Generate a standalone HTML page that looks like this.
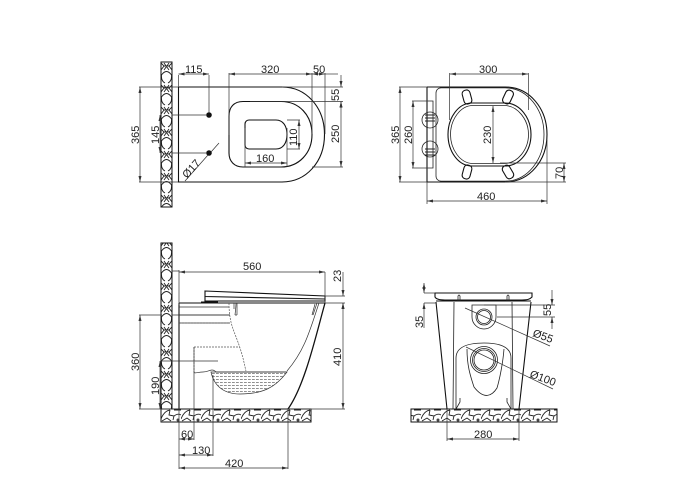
<!DOCTYPE html>
<html><head><meta charset="utf-8"><style>
html,body{margin:0;padding:0;background:#fff}
svg{display:block}
text{font-family:"Liberation Sans",sans-serif;font-size:11px;fill:#222}
.d{stroke:#333;stroke-width:.7;fill:none}
.h{stroke:#111;stroke-width:1.1;fill:none}
.m{stroke:#222;stroke-width:.8;fill:none}
.da{stroke:#555;stroke-width:.7;fill:none;stroke-dasharray:2 1}
</style></head><body>
<svg width="700" height="500" viewBox="0 0 700 500" xmlns="http://www.w3.org/2000/svg">
<defs>
<marker id="a" viewBox="0 0 8 4" refX="8" refY="2" markerWidth="6" markerHeight="3" markerUnits="userSpaceOnUse" orient="auto-start-reverse"><path d="M0 0L8 2L0 4z" fill="#333"/></marker>
<pattern id="w" width="11" height="22" patternUnits="userSpaceOnUse" x="161" y="62">
<rect width="11" height="22" fill="#fff"/>
<path d="M0 1L3 4L0 8M11 1L8 4L11 8M3 4L8 4M3 1L8 8M8 1L3 8" stroke="#222" stroke-width=".9" fill="none"/>
<path d="M0.500 13Q5.500 6 10.500 13Q11 19 7 21M0.500 13Q0 19 4 21" stroke="#222" stroke-width=".9" fill="none"/>
</pattern>
<pattern id="f" width="20" height="13" patternUnits="userSpaceOnUse" x="161" y="409">
<rect width="20" height="13" fill="#fff"/>
<path d="M0 10Q3 2 9 1M9 1L8 6L13 7L12 11M13 1H20M1 12L6 9L10 12M13 7Q17 4 20 6" stroke="#222" stroke-width=".9" fill="none"/>
<circle cx="17" cy="11" r="1.500" fill="#444"/>
</pattern>
<pattern id="g" width="4" height="3" patternUnits="userSpaceOnUse"><path d="M0 1.500H2.800" stroke="#444" stroke-width=".6"/></pattern>
</defs>

<!-- TOP LEFT -->
<rect x="161" y="62" width="11" height="145" fill="url(#w)" stroke="#111" stroke-width="1"/>
<path class="h" d="M178.500 87V182H282C306 182 324.500 162 324.500 134.500C324.500 107 306 87 282 87H178.500"/>
<path class="h" d="M243 101.500H281C299 101.500 312 115 312 134.500C312 153 299 167 281 167H243C234 167 229 161 229 153V116C229 107 234 101.500 243 101.500Z"/>
<path class="h" d="M249 120H276C283 120 287 126 287 134.500C287 143 283 149 276 149H249C246.500 149 245 147 245 145V124C245 122 246.500 120 249 120Z"/>
<circle cx="209" cy="115" r="2.800" fill="#111"/><circle cx="209" cy="153" r="2.800" fill="#111"/>
<path class="d" d="M172 115H206M172 153H206M209 75V113M178.500 75V87M229 73V135M312 73V134M325 73V134M139 87H178M139 182H178M282 87H343M245 128V167M287 128V167M287 120H300M287 149H300M312 167H343M250 101.500H343"/>
<path class="d" marker-start="url(#a)" marker-end="url(#a)" d="M178.500 74H209"/>
<path class="d" marker-start="url(#a)" marker-end="url(#a)" d="M229 74H312"/>
<path class="d" marker-start="url(#a)" marker-end="url(#a)" d="M312 74H325"/>
<path class="d" d="M325 74H338"/>
<path class="d" marker-start="url(#a)" marker-end="url(#a)" d="M140 87V182"/>
<path class="d" marker-start="url(#a)" marker-end="url(#a)" d="M160 115V153"/>
<path class="d" marker-start="url(#a)" marker-end="url(#a)" d="M341 101.500V167"/>
<path class="d" marker-end="url(#a)" d="M341 75V87"/><path class="d" marker-start="url(#a)" d="M341 101.500V108"/>
<path class="d" marker-start="url(#a)" marker-end="url(#a)" d="M245 163H287"/>
<path class="d" marker-start="url(#a)" marker-end="url(#a)" d="M299 120V149"/>
<path class="d" d="M185 181L208 155M211 152L219 143"/>
<text x="185" y="73">115</text><text x="261" y="73">320</text><text x="313" y="73">50</text>
<text x="256" y="162">160</text>
<text transform="translate(139 144)rotate(-90)">365</text>
<text transform="translate(159 144)rotate(-90)">145</text>
<text transform="translate(339 101)rotate(-90)">55</text>
<text transform="translate(339 143)rotate(-90)">250</text>
<text transform="translate(297 146)rotate(-90)">110</text>
<text transform="translate(187 179)rotate(-48)">Ø17</text>

<!-- TOP RIGHT -->
<path class="h" d="M427 87V182H505C530 182 547 160 547 134.500C547 109 530 87 505 87H427"/>
<path class="m" d="M441 87.800H505C528 88 544 110 544 134.500C544 159 528 181 505 181.200H441C438 181 436 179 436 176V93C436 90 438 88 441 87.800Z"/>
<path class="m" d="M428 101H433V168H428"/>
<path class="h" d="M472 103H505C520 103 531 118 531 134.500C531 151 520 166 505 166H472C458 166 448 151 448 134.500C448 118 458 103 472 103Z"/>
<path class="m" d="M473 105.500H504C518 105.500 528.500 120 528.500 134.500C528.500 149 518 163.500 504 163.500H473C460 163.500 450.500 149 450.500 134.500C450.500 120 460 105.500 473 105.500Z"/>
<g class="h">
<rect x="463" y="90" width="8" height="14" rx="3.500" transform="rotate(-15 467 97)"/>
<rect x="504" y="90" width="8" height="14" rx="3.500" transform="rotate(25 508 97)"/>
<rect x="463" y="165" width="8" height="14" rx="3.500" transform="rotate(15 467 172)"/>
<rect x="504" y="165" width="8" height="14" rx="3.500" transform="rotate(-30 508 172)"/>
</g>
<circle class="m" cx="430" cy="120" r="8"/><circle class="m" cx="430" cy="149" r="8"/>
<path d="M425 115H435M425 118H435M425 121H435M425 149H435M425 152H435M425 155H435" stroke="#222" stroke-width=".9"/>
<path class="d" d="M449.500 73V120M528.500 73V110M399 87H427M399 182H427M412 101H428M412 168H428M500 163H566M505 182H566M427 182V204M547 140V204"/>
<path class="d" marker-start="url(#a)" marker-end="url(#a)" d="M450 74H528"/>
<path class="d" marker-start="url(#a)" marker-end="url(#a)" d="M400 87V182"/>
<path class="d" marker-start="url(#a)" marker-end="url(#a)" d="M413 101V168"/>
<path class="d" marker-start="url(#a)" marker-end="url(#a)" d="M493 106V163"/>
<path class="d" marker-start="url(#a)" marker-end="url(#a)" d="M564 163V182"/>
<path class="d" marker-start="url(#a)" marker-end="url(#a)" d="M427 201H547"/>
<text x="479" y="73">300</text><text x="477" y="200">460</text>
<text transform="translate(399 144)rotate(-90)">365</text>
<text transform="translate(412 144)rotate(-90)">260</text>
<text transform="translate(491 144)rotate(-90)">230</text>
<text transform="translate(563 179)rotate(-90)">70</text>

<!-- BOTTOM LEFT -->
<rect x="161" y="243" width="11" height="166" fill="url(#w)" stroke="#111" stroke-width="1"/>
<rect x="161" y="409" width="150" height="13" fill="url(#f)" stroke="#111" stroke-width="1"/>
<path class="h" d="M179 303V409"/>
<path class="h" d="M179 303H325"/>
<path class="h" style="stroke-width:1.300" d="M325 303C316 335 305 385 288 409"/>
<path class="h" d="M205 291L325 296V299L205 296.500Z"/>
<path class="h" d="M205 296.500V301H325V299"/><path class="h" d="M201 302H218"/>
<path class="d" d="M234 303V309M236 303C236 308 235 314 235 315M235 315H237M237 303V315M315 304L312 315M317 303L313 315"/>
<path class="d" d="M179 307H229M179 315H230M179 323H230"/>
<path class="da" d="M229 303C229 325 235 332 240 348C244 360 245 368 246 371"/>
<path class="da" d="M179 323H230"/>
<path class="da" d="M194 347H240M194 347V372"/>
<path class="d" d="M194 372C194 374 198 372 203 372C208 372 209 370 212 370C215 370 215 372 217 372H287"/>
<path class="d" d="M319 303C310 330 305 350 287 371"/>
<path class="d" style="fill:url(#g)" d="M211 372C214 386 224 394 240 394C262 394 275 388 287 372Z"/>
<path class="d" d="M179 271H172M172 315H230M139 315H162M139 409H180M161 361H218M288 409H345M179 270V305M325 272V303M325 296H345M325 303H345M179 409V469M194 347V440M213 375V456M288 409V469"/>
<path class="d" marker-start="url(#a)" marker-end="url(#a)" d="M179 272H325"/>
<path class="d" marker-start="url(#a)" marker-end="url(#a)" d="M140 315V409"/>
<path class="d" marker-start="url(#a)" marker-end="url(#a)" d="M160 361V409"/>
<path class="d" marker-start="url(#a)" marker-end="url(#a)" d="M343 303V409"/>
<path class="d" marker-end="url(#a)" d="M343 272V296"/><path class="d" marker-start="url(#a)" d="M343 303V309"/>
<path class="d" marker-start="url(#a)" marker-end="url(#a)" d="M179 439H194"/>
<path class="d" marker-start="url(#a)" marker-end="url(#a)" d="M179 455H213"/>
<path class="d" marker-start="url(#a)" marker-end="url(#a)" d="M179 468H288"/>
<text x="243" y="270">560</text><text x="181" y="438">60</text><text x="192" y="454">130</text><text x="225" y="467">420</text>
<text transform="translate(139 371)rotate(-90)">360</text>
<text transform="translate(159 395)rotate(-90)">190</text>
<text transform="translate(341 282)rotate(-90)">23</text>
<text transform="translate(341 366)rotate(-90)">410</text>

<!-- BOTTOM RIGHT -->
<rect x="411" y="409" width="146" height="13" fill="url(#f)" stroke="#111" stroke-width="1"/>
<path class="h" d="M435 293H532V297C530 299 528 300 522 300H445C439 300 436 299 435 297Z"/>
<path class="h" d="M436 302L447 409M531 302L519 409"/>
<path class="h" d="M436 301H531"/>
<path class="m" d="M454 302L453 409M512 302L513 409"/>
<path class="m" d="M458 301V296Q459 294 460 296V301M507 301V296Q508 294 509 296V301"/>
<path class="m" d="M472 305H496V317C496 324 490 329 484 329C478 329 472 324 472 317Z"/>
<circle class="m" style="fill:#fff" cx="484" cy="317" r="8"/><circle class="m" cx="484" cy="317" r="6.500"/>
<path class="m" d="M456 409V358C456 348 466 343 484 343C502 343 511 348 511 358V409"/>
<path class="m" d="M456 409L460 402V398M511 409L507 402V398"/>
<path class="m" d="M467 349C467 365 470 375 474 387C484 400 492 396 497 388C500 378 503 362 504 349"/>
<circle class="m" style="fill:#fff" cx="484" cy="360" r="13.500"/><circle class="m" cx="484" cy="360" r="11.500"/><circle class="m" cx="484" cy="360" r="10"/>
<path class="d" d="M465 308L550 346M466 347L553 389M435 293H424M436 303H424M497 317H555M447 409V441M519 409V441M484 305H555"/>
<path class="d" marker-start="url(#a)" marker-end="url(#a)" d="M424 283V293"/>
<path class="d" marker-start="url(#a)" d="M424 303V328"/>
<path class="d" marker-start="url(#a)" d="M552 305V290"/>
<path class="d" marker-start="url(#a)" d="M552 317V329"/>
<path class="d" marker-start="url(#a)" marker-end="url(#a)" d="M447 439H519"/>
<text x="474" y="438">280</text>
<text transform="translate(423 328)rotate(-90)">35</text>
<text transform="translate(551 316)rotate(-90)">55</text>
<text transform="translate(532 336)rotate(20)">Ø55</text>
<text transform="translate(529 377)rotate(20)">Ø100</text>
</svg>
</body></html>
